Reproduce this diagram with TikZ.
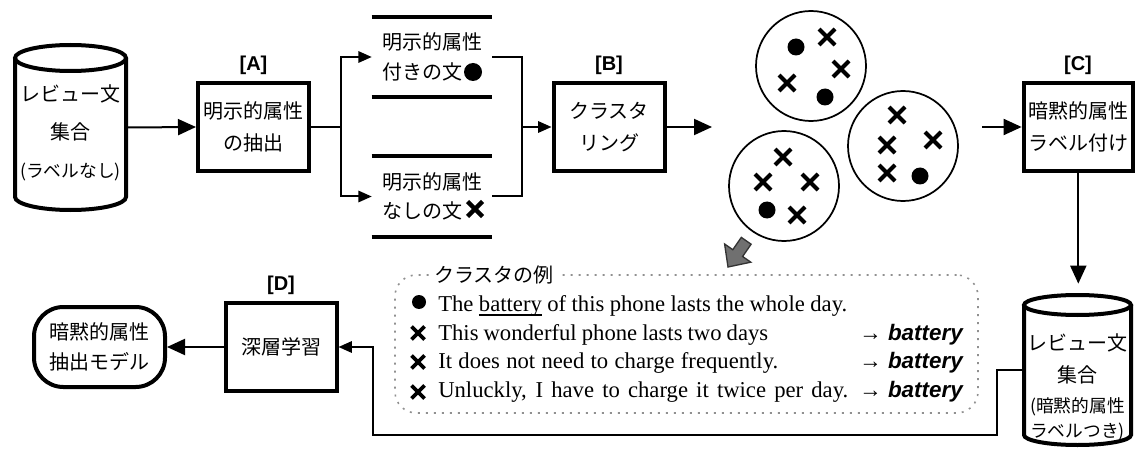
\documentclass[tikz,border=0pt]{standalone}
\usepackage{fontspec}
\setmainfont{Liberation Serif}
\newfontfamily\jp{Noto Sans CJK JP}
\newfontfamily\lab{Liberation Sans}
\usetikzlibrary{arrows.meta}
\definecolor{arrgray}{HTML}{707070}
\definecolor{arrdark}{HTML}{333333}
\definecolor{dashgray}{HTML}{909090}
\newcommand\myul[1]{\leavevmode\setbox0=\hbox{#1}\rlap{\rule[-3.2pt]{\wd0}{1pt}}\box0\relax}
\begin{document}
\begin{tikzpicture}[x=0.75pt,y=-0.75pt,
  area/.style={inner sep=0pt, outer sep=0pt},
  box/.style={draw, line width=3pt, minimum width=83.25pt, minimum height=66pt, inner sep=0pt, align=center, font=\jp\fontsize{15pt}{24pt}\selectfont},
  lbl/.style={font=\lab\bfseries\fontsize{15pt}{18pt}\selectfont, inner sep=0pt},
  doc/.style={minimum width=90pt, minimum height=60pt, inner sep=0pt, align=left, font=\jp\fontsize{15pt}{22pt}\selectfont},
  docline/.style={line width=3pt},
  thick3/.style={line width=3pt},
  arr/.style={line width=1.5pt, -{Triangle[length=13.5pt,width=12pt]}},
  sarr/.style={line width=1.5pt, -{Triangle[length=10pt,width=8.5pt]}},
  conn/.style={line width=1.5pt},
  circ/.style={circle, draw, line width=1.3pt, minimum size=82.5pt, inner sep=0pt},
  sent/.style={anchor=base west, inner sep=0pt, font=\fontsize{17pt}{20pt}\selectfont},
  res/.style={anchor=base east, inner sep=0pt, font=\lab\bfseries\fontsize{16.8pt}{20pt}\selectfont},
  dashbox/.style={draw=dashgray, line width=1.2pt, dash pattern=on 1.5pt off 4.5pt, rounded corners=16pt, inner sep=0pt},
  xmark/.pic={\draw (-#1,-#1) -- (#1,#1) (-#1,#1) -- (#1,-#1);},
  dotmark/.pic={\fill (0,0) circle [radius=#1];}
]
\useasboundingbox (0,0) rectangle (1135,449);

% ---- cylinder 1
\node[area, minimum width=86.25pt, minimum height=126.75pt] (cyl1) at (70.5,127.5) {};
\draw[thick3] (70.5,58) ellipse [x radius=55.5, y radius=13];
\draw[thick3] (15,58) -- (15,197) arc[start angle=180, end angle=0, x radius=55.5, y radius=13] -- (126,58);
\node[area, align=center, font=\jp\fontsize{15pt}{28.5pt}\selectfont] (cyl1t) at (70.5,133)
  {レビュー文\\集合\\{\fontsize{13.3pt}{16pt}\selectfont (ラベルなし)}};

% ---- boxes
\node[box] (A) at (253.5,127) {明示的属性\\の抽出};
\node[lbl] (la) at (253.5,65) {[A]};
\node[box] (B) at (609,127) {クラスタ\\リング};
\node[lbl] (lb) at (609,65) {[B]};
\node[box, minimum width=82pt] (C) at (1078.3,127) {暗黙的属性\\ラベル付け};
\node[lbl] (lc) at (1078,65) {[C]};
\node[box] (D) at (281,347) {深層学習};
\node[lbl] (ld) at (281,285) {[D]};
\node[box, rounded corners=22pt, minimum width=98.25pt, minimum height=60pt, font=\jp\fontsize{15pt}{23pt}\selectfont] (E) at (99.5,347) {暗黙的属性\\抽出モデル};

% ---- documents
\node[doc] (d1) at (432,57) {明示的属性\\付きの文};
\draw[docline] (d1.north west) -- (d1.north east) (d1.south west) -- (d1.south east);
\pic at (473,72) {dotmark=9};
\node[doc] (d2) at (432,196.5) {明示的属性\\なしの文};
\draw[docline] (d2.north west) -- (d2.north east) (d2.south west) -- (d2.south east);
\pic[line width=3.3pt] at (475,209) {xmark=7.5};

% ---- connectors top row
\draw[arr] (cyl1.east) -- (A.west);
\coordinate (split) at (341,127);
\draw[conn] (A.east) -- (split);
\draw[sarr] (split) |- (d1.west);
\draw[sarr] (split) |- (d2.west);
\coordinate (join) at (522,127);
\draw[conn] (d1.east) -| (join);
\draw[conn] (d2.east) -| (join);
\draw[sarr] (join) -- (B.west);
\coordinate (bout) at (712,127);
\draw[arr] (B.east) -- (bout);
\coordinate (cin) at (982,127);
\draw[arr] (cin) -- (C.west);

% ---- clusters
\node[circ] (c1) at (811,66) {};
\node[circ] (c2) at (903,146) {};
\node[circ] (c3) at (784,186) {};
\begin{scope}[line width=3pt]
\pic at (796,47) {dotmark=8.5};
\pic at (827,37) {xmark=8};
\pic at (841,69) {xmark=8};
\pic at (787,83) {xmark=8};
\pic at (825,97) {dotmark=8.5};
\pic at (897,115) {xmark=8};
\pic at (887,145) {xmark=8};
\pic at (933,140) {xmark=8};
\pic at (887,173) {xmark=8};
\pic at (920,176) {dotmark=8.5};
\pic at (783,157) {xmark=8};
\pic at (763,182) {xmark=8};
\pic at (810,182) {xmark=8};
\pic at (767,210) {dotmark=8.5};
\pic at (797,215) {xmark=8};
\end{scope}

% ---- gray arrow
\draw[fill=arrgray, draw=arrdark, line width=1pt, line join=miter]
  (728,267) -- (750.8,262.2) -- (742.6,256.5) -- (751.1,244.2) -- (741.3,237.4) -- (732.8,249.7) -- (724.6,244.0) -- cycle;

% ---- cylinder 2
\node[area, minimum width=83.25pt, minimum height=115.5pt] (cyl2) at (1077.5,370) {};
\draw[thick3] (1077.5,305) ellipse [x radius=53.5, y radius=10];
\draw[thick3] (1024,305) -- (1024,435) arc[start angle=180, end angle=0, x radius=53.5, y radius=10] -- (1131,305);
\node[area, align=center, font=\jp\fontsize{15pt}{18.75pt}\selectfont] (cyl2t) at (1077.5,387)
  {レビュー文\\[5.25pt]集合\\[3.75pt]{\fontsize{13.3pt}{16pt}\selectfont (暗黙的属性}\\{\fontsize{13.3pt}{16pt}\selectfont ラベルつき)}};

\draw[arr, shorten >=7pt] (C.south) -- (C.south |- cyl2.north);
\draw[sarr] (cyl2.west) -- ++(-25,0) |- (373,435) |- (D.east);
\draw[arr] (D.west) -- (E.east);

% ---- example box
\node[dashbox, minimum width=437.25pt, minimum height=103.5pt] (ex) at (686.5,344) {};
\node[fill=white, inner xsep=4pt, inner ysep=1pt, font=\jp\fontsize{15pt}{18pt}\selectfont] (ext) at (494,275) {クラスタの例};
\pic at (419,302) {dotmark=7};
\begin{scope}[line width=2.8pt]
\pic at (418,333) {xmark=6.5};
\pic at (418,362) {xmark=6.5};
\pic at (418,392) {xmark=6.5};
\end{scope}
\node[sent] (s1) at (438,311.5) {\makebox[306.75pt][s]{The \myul{battery} of this phone lasts the whole day.}};
\node[sent] (s2) at (438,340) {\makebox[247.5pt][s]{This wonderful phone lasts two days}};
\node[sent] (s3) at (438,368.5) {\makebox[255pt][s]{It does not need to charge frequently.}};
\node[sent] (s4) at (438,397) {\makebox[307.5pt][s]{Unluckly, I have to charge it twice per day.}};
\node[res] (r2) at (963,340) {→ \itshape battery};
\node[res] (r3) at (963,368.5) {→ \itshape battery};
\node[res] (r4) at (963,397) {→ \itshape battery};
\end{tikzpicture}
\end{document}
